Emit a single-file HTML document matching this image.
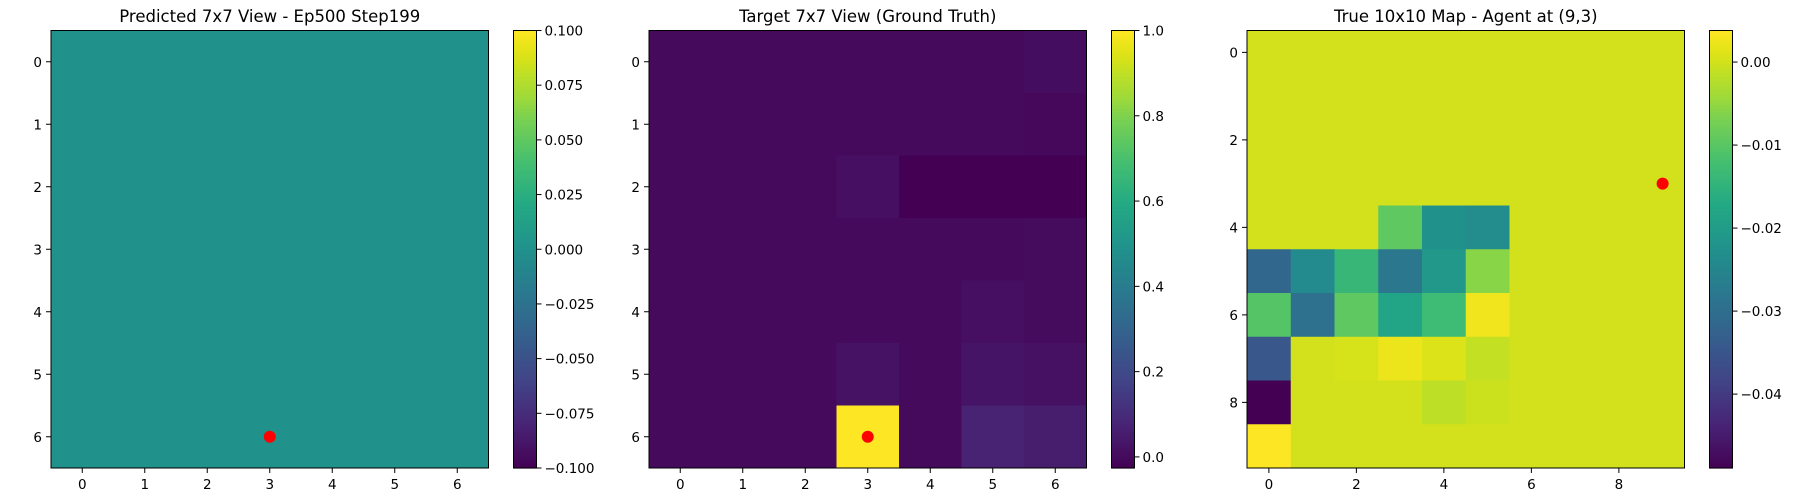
<!DOCTYPE html>
<html><head><meta charset="utf-8"><style>
body{margin:0;background:#fff;}
svg{display:block;font-family:"DejaVu Sans","Liberation Sans",sans-serif;}
</style></head><body>
<svg id="fig" width="1800" height="500" viewBox="0 0 1800 500"></svg>
<script>
const p1Values=[[0,0,0,0,0,0,0],[0,0,0,0,0,0,0],[0,0,0,0,0,0,0],[0,0,0,0,0,0,0],[0,0,0,0,0,0,0],[0,0,0,0,0,0,0],[0,0,0,0,0,0,0]];
const p2Values=[
[0,0,0,0,0,0,0.01],
[0,0,0,0,0,0,-0.005],
[0,0,0,0.015,-0.026,-0.026,-0.026],
[0,0,0,0,0,0,0.005],
[0,0,0,0,0,0.015,0.005],
[0,0,0,0.025,0,0.03,0.02],
[0,0,0,1.0,0,0.07,0.055]];
const p3Values=[
[0,0,0,0,0,0,0,0,0,0],
[0,0,0,0,0,0,0,0,0,0],
[0,0,0,0,0,0,0,0,0,0],
[0,0,0,0,0,0,0,0,0,0],
[0,0,0,-0.0094,-0.0225,-0.0236,0,0,0,0],
[-0.0315,-0.024,-0.014,-0.028,-0.021,-0.0057,0,0,0,0],
[-0.0104,-0.0294,-0.0094,-0.0183,-0.013,0.0027,0,0,0,0],
[-0.0347,0,0.0004,0.0022,0.001,-0.001,0,0,0,0],
[-0.0489,0,0,0,-0.0015,-0.0004,0,0,0,0],
[0.0038,0,0,0,0,0,0,0,0,0]];
const p1Ticks=[0.1,0.075,0.05,0.025,0,-0.025,-0.05,-0.075,-0.1];
const p1TickLabels=["0.100","0.075","0.050","0.025","0.000","\u22120.025","\u22120.050","\u22120.075","\u22120.100"];
const p2Ticks=[1.0,0.8,0.6,0.4,0.2,0.0];
const p2TickLabels=["1.0","0.8","0.6","0.4","0.2","0.0"];
const p3Ticks=[0,-0.01,-0.02,-0.03,-0.04];
const p3TickLabels=["0.00","\u22120.01","\u22120.02","\u22120.03","\u22120.04"];
const titles=["Predicted 7x7 View - Ep500 Step199","Target 7x7 View (Ground Truth)","True 10x10 Map - Agent at (9,3)"];
const agents=[[3,6],[3,6],[9,3]];

const VSTOPS=[[0,"#440154"],[0.1,"#482475"],[0.2,"#414487"],[0.3,"#355f8d"],[0.4,"#2a788e"],[0.5,"#21918c"],[0.6,"#22a884"],[0.7,"#44bf70"],[0.8,"#7ad151"],[0.85,"#a0da39"],[0.9,"#bddf26"],[0.925,"#d0e11c"],[0.95,"#dfe318"],[0.975,"#efe51c"],[1,"#fde725"]];
function hx(c){return [1,3,5].map(i=>parseInt(c.substr(i,2),16));}
function viridis(f){f=Math.max(0,Math.min(1,f));let i=0;while(i<VSTOPS.length-2&&f>VSTOPS[i+1][0])i++;const [f0,c0]=VSTOPS[i],[f1,c1]=VSTOPS[i+1];const t=(f-f0)/(f1-f0);const a=hx(c0),b=hx(c1);return "rgb("+a.map((v,k)=>Math.round(v+(b[k]-v)*t)).join(",")+")";}
const NS="http://www.w3.org/2000/svg";
const svg=document.getElementById('fig');
function mk(tag,attrs,parent){const e=document.createElementNS(NS,tag);for(const k in attrs)e.setAttribute(k,attrs[k]);(parent||svg).appendChild(e);return e;}
const TOP=30.5,SIZE=437.5;
const panels=[
 {left:51,data:p1Values,vmin:-0.1,vmax:0.1,ticks:p1Ticks,labels:p1TickLabels,xt:[0,1,2,3,4,5,6]},
 {left:649,data:p2Values,vmin:-0.026,vmax:1.0,ticks:p2Ticks,labels:p2TickLabels,xt:[0,1,2,3,4,5,6]},
 {left:1247,data:p3Values,vmin:-0.0489,vmax:0.0038,ticks:p3Ticks,labels:p3TickLabels,xt:[0,2,4,6,8]}];
panels.forEach((p,pi)=>{
 const g=mk('g',{});
 
 
 const n=p.data.length,cell=SIZE/n;
 const xs=c=>p.left+(c+0.5)*cell, ys=r=>TOP+(r+0.5)*cell;
 p.data.forEach((row,r)=>row.forEach((v,c)=>{
  const rc=mk('rect',{x:p.left+c*cell,y:TOP+r*cell,width:cell+0.5,height:cell+0.5,fill:viridis((v-p.vmin)/(p.vmax-p.vmin))},g);
  
  
 }));
 const fr=mk('rect',{x:p.left,y:TOP,width:SIZE,height:SIZE,fill:'none',stroke:'#000','stroke-width':1},g);
 
 
 const ag=agents[pi];
 const dot=mk('circle',{cx:xs(ag[0]),cy:ys(ag[1]),r:6,fill:'#ff0000'},g);
 
 
 const t=mk('text',{x:p.left+SIZE/2,y:22,'text-anchor':'middle','font-size':16.5,fill:'#000'},g);
 t.textContent=titles[pi];
 
 
 const yt=n===10?[0,2,4,6,8]:[0,1,2,3,4,5,6];
 yt.forEach(v=>{
  mk('line',{x1:p.left-5,x2:p.left,y1:ys(v),y2:ys(v),stroke:'#000'},g);
  const l=mk('text',{x:p.left-9,y:ys(v)+5,'text-anchor':'end','font-size':13.5},g);
  l.textContent=v;
  
  
 });
 p.xt.forEach(v=>{
  mk('line',{x1:xs(v),x2:xs(v),y1:TOP+SIZE,y2:TOP+SIZE+5,stroke:'#000'},g);
  const l=mk('text',{x:xs(v),y:TOP+SIZE+21,'text-anchor':'middle','font-size':13.5},g);
  l.textContent=v;
  
  
 });
 const cbx=p.left+SIZE+25,cbw=23;
 const cb=mk('g',{},g);
 
 
 const steps=200;
 for(let i=0;i<steps;i++){
  const f0=i/steps;
  mk('rect',{x:cbx,y:TOP+SIZE-(i+1)*SIZE/steps,width:cbw,height:SIZE/steps+0.6,fill:viridis(f0+0.5/steps)},cb);
 }
 mk('rect',{x:cbx,y:TOP,width:cbw,height:SIZE,fill:'none',stroke:'#000'},cb);
 const cy=v=>TOP+SIZE-(v-p.vmin)/(p.vmax-p.vmin)*SIZE;
 p.ticks.forEach((v,i)=>{
  mk('line',{x1:cbx+cbw,x2:cbx+cbw+5,y1:cy(v),y2:cy(v),stroke:'#000'},cb);
  const l=mk('text',{x:cbx+cbw+8,y:cy(v)+5,'font-size':13.5},cb);
  l.textContent=p.labels[i];
  
  
 });
});
</script>
</body></html>
